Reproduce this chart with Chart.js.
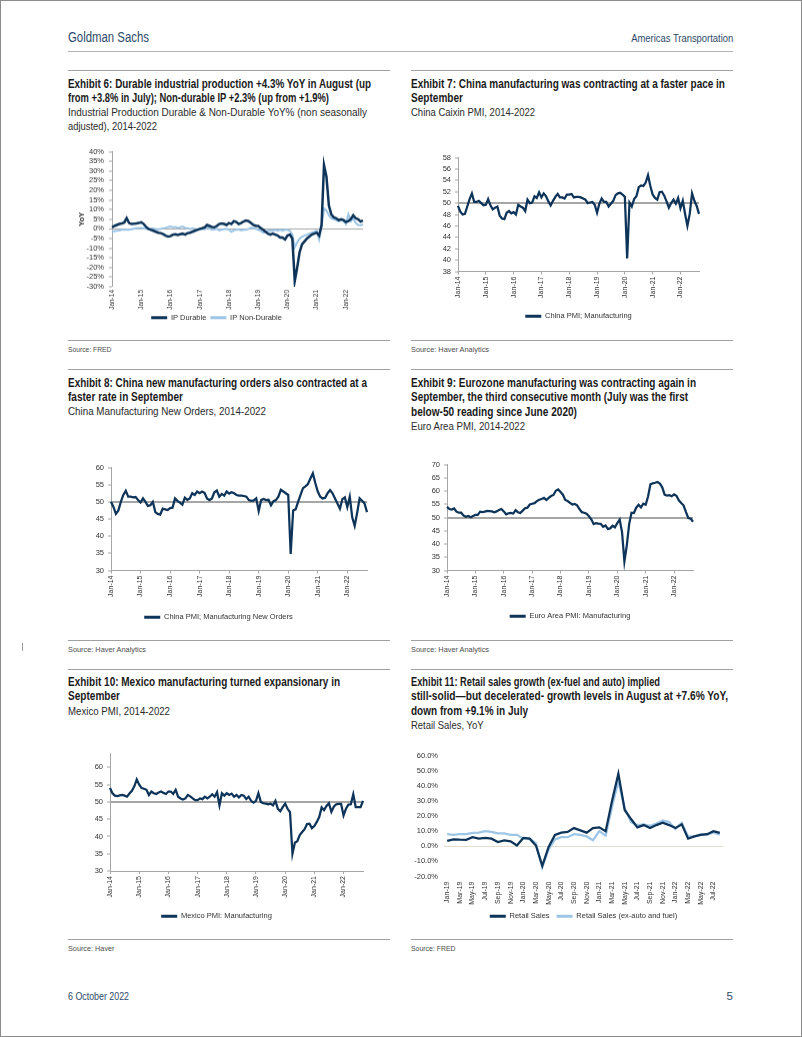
<!DOCTYPE html>
<html>
<head>
<meta charset="utf-8">
<script src="https://cdn.jsdelivr.net/npm/chart.js@4.4.0/dist/chart.umd.min.js"></script>
<style>
  html, body { margin: 0; padding: 0; background: #fff; }
  #page { position: relative; width: 802px; height: 1037px; overflow: hidden;
    font-family: "Liberation Sans Narrow", "Liberation Sans", Arial, sans-serif; }
  .frame { position: absolute; left: 0; top: 0; right: 0; bottom: 0; border: 1px solid #8c8c8c; pointer-events: none; }
  .ln { position: absolute; white-space: nowrap; transform-origin: 0 50%; }
  .r { transform-origin: 100% 50%; }
  .hd { color: #2d4a6b; }
  .ti { font-weight: bold; font-size: 12px; line-height: 14px; color: #1a1a1a; }
  .st { font-size: 11.5px; line-height: 14px; color: #2b2b2b; }
  .src { font-size: 7.5px; line-height: 10px; color: #4d4d4d; }
  .rule { position: absolute; height: 1px; background: #a0a0a0; }
  .box { position: absolute; }
</style>
</head>
<body>
<div id="page">
  <div class="ln hd" style="left:68px;top:28px;font-size:14px;line-height:18px" data-w="81">Goldman Sachs</div>
  <div class="ln hd r" style="right:69px;top:31px;font-size:11px;line-height:14px" data-w="102">Americas Transportation</div>
  <div class="rule" style="left:68px;top:51px;width:665px;background:#b3b3b3"></div>

  <!-- row 1 -->
  <div class="rule" style="left:68px;top:70px;width:322px"></div>
  <div class="rule" style="left:411px;top:70px;width:322px"></div>
  <div class="ln ti" style="left:68px;top:76.5px" data-w="303">Exhibit 6: Durable industrial production +4.3% YoY in August (up</div>
  <div class="ln ti" style="left:68px;top:90.7px" data-w="261">from +3.8% in July); Non-durable IP +2.3% (up from +1.9%)</div>
  <div class="ln st" style="left:68px;top:105.3px" data-w="299">Industrial Production Durable &amp; Non-Durable YoY% (non seasonally</div>
  <div class="ln st" style="left:68px;top:119px" data-w="89">adjusted), 2014-2022</div>
  <div class="ln ti" style="left:411px;top:76.5px" data-w="314">Exhibit 7: China manufacturing was contracting at a faster pace in</div>
  <div class="ln ti" style="left:411px;top:90.7px" data-w="52">September</div>
  <div class="ln st" style="left:411px;top:105.3px" data-w="124">China Caixin PMI, 2014-2022</div>
  <div class="box" style="left:70px;top:142px;width:297px;height:188.5px"><canvas id="c6"></canvas></div>
  <div class="box" style="left:420px;top:149px;width:283px;height:181px"><canvas id="c7"></canvas></div>
  <div class="rule" style="left:68px;top:340px;width:322px"></div>
  <div class="rule" style="left:411px;top:340px;width:322px"></div>
  <div class="ln src" style="left:68px;top:345px" data-w="43.5">Source: FRED</div>
  <div class="ln src" style="left:411px;top:345px" data-w="78">Source: Haver Analytics</div>

  <!-- row 2 -->
  <div class="rule" style="left:68px;top:369px;width:322px"></div>
  <div class="rule" style="left:411px;top:369px;width:322px"></div>
  <div class="ln ti" style="left:68px;top:376.3px" data-w="299">Exhibit 8: China new manufacturing orders also contracted at a</div>
  <div class="ln ti" style="left:68px;top:390.3px" data-w="115">faster rate in September</div>
  <div class="ln st" style="left:68px;top:404px" data-w="198">China Manufacturing New Orders, 2014-2022</div>
  <div class="ln ti" style="left:411px;top:376.3px" data-w="285">Exhibit 9: Eurozone manufacturing was contracting again in</div>
  <div class="ln ti" style="left:411px;top:390.3px" data-w="277">September, the third consecutive month (July was the first</div>
  <div class="ln ti" style="left:411px;top:404.7px" data-w="166">below-50 reading since June 2020)</div>
  <div class="ln st" style="left:411px;top:419px" data-w="114">Euro Area PMI, 2014-2022</div>
  <div class="box" style="left:70px;top:459px;width:301px;height:172px"><canvas id="c8"></canvas></div>
  <div class="box" style="left:410px;top:456px;width:287px;height:174px"><canvas id="c9"></canvas></div>
  <div class="rule" style="left:68px;top:640px;width:322px"></div>
  <div class="rule" style="left:411px;top:640px;width:322px"></div>
  <div class="ln src" style="left:68px;top:645px" data-w="78">Source: Haver Analytics</div>
  <div class="ln src" style="left:411px;top:645px" data-w="78">Source: Haver Analytics</div>
  <div style="position:absolute;left:22px;top:643px;width:1px;height:8px;background:#9a9a9a"></div>

  <!-- row 3 -->
  <div class="rule" style="left:68px;top:669px;width:322px"></div>
  <div class="rule" style="left:411px;top:669px;width:322px"></div>
  <div class="ln ti" style="left:68px;top:675.3px" data-w="272">Exhibit 10: Mexico manufacturing turned expansionary in</div>
  <div class="ln ti" style="left:68px;top:689px" data-w="52">September</div>
  <div class="ln st" style="left:68px;top:703.7px" data-w="102">Mexico PMI, 2014-2022</div>
  <div class="ln ti" style="left:411px;top:675.3px" data-w="249">Exhibit 11: Retail sales growth (ex-fuel and auto) implied</div>
  <div class="ln ti" style="left:411px;top:689px" data-w="317">still-solid—but decelerated- growth levels in August at +7.6% YoY,</div>
  <div class="ln ti" style="left:411px;top:703.7px" data-w="117">down from +9.1% in July</div>
  <div class="ln st" style="left:411px;top:718px" data-w="72.5">Retail Sales, YoY</div>
  <div class="box" style="left:70px;top:745px;width:297px;height:185px"><canvas id="c10"></canvas></div>
  <div class="box" style="left:400px;top:745px;width:327px;height:185px"><canvas id="c11"></canvas></div>
  <div class="rule" style="left:68px;top:939px;width:322px"></div>
  <div class="rule" style="left:411px;top:939px;width:322px"></div>
  <div class="ln src" style="left:68px;top:944.3px" data-w="46.5">Source: Haver</div>
  <div class="ln src" style="left:411px;top:944.3px" data-w="44.5">Source: FRED</div>

  <div class="ln hd" style="left:68px;top:989px;font-size:11.5px;line-height:14px" data-w="61">6 October 2022</div>
  <div class="ln hd r" style="right:69px;top:989px;font-size:11.5px;line-height:14px">5</div>
  <div class="frame"></div>
</div>

<script>
// squeeze each text line to the width it has in the report
document.querySelectorAll('[data-w]').forEach(el => {
  const w = el.getBoundingClientRect().width;
  el.style.transform = 'scaleX(' + (parseFloat(el.dataset.w) / w).toFixed(4) + ')';
});

const MONTHS = ['Jan', 'Feb', 'Mar', 'Apr', 'May', 'Jun', 'Jul', 'Aug', 'Sep', 'Oct', 'Nov', 'Dec'];
function monthLabels(year, count) {
  const out = [];
  for (let i = 0; i < count; i++) {
    out.push(MONTHS[i % 12] + '-' + String((year + Math.floor(i / 12)) % 100).padStart(2, '0'));
  }
  return out;
}

// Exhibit 6: Jan-14 .. Aug-22
const ipMonths = monthLabels(2014, 104);
const ipDurable = [
  0.8, 1.5, 2.0, 2.5, 2.8, 3.2, 5.5, 3.0, 2.5, 2.6, 2.8, 3.0,
  3.4, 2.5, 1.0, 0.0, -0.5, -1.0, -1.5, -2.0, -2.2, -2.8, -3.5, -4.0,
  -3.8, -3.0, -2.8, -3.2, -2.8, -2.5, -3.0, -2.2, -2.0, -1.5, -1.0, -0.5,
  0.0, 0.3, 0.8, 2.0, 1.5, 1.0, 0.8, 1.5, 2.5, 2.8, 2.5, 2.0,
  3.0, 2.5, 4.0, 3.5, 2.5, 3.0, 3.8, 4.3, 4.0, 3.0, 2.0, 1.5,
  1.5, 0.5, -0.5, -1.5, -2.5, -3.0, -2.5, -3.0, -3.5, -4.5, -4.5, -5.5,
  -3.5, -3.0, -5.0, -27.0, -20.0, -12.0, -8.0, -6.5, -5.0, -4.0, -3.0, -2.5,
  -2.0, -3.5, 2.0, 33.0, 27.0, 12.0, 7.5, 6.0, 5.5, 4.5, 5.0, 4.5,
  3.5, 4.0, 5.0, 7.0, 5.5, 5.0, 3.8, 4.3
];
const ipNonDurable = [
  -1.5, -1.2, -1.0, -0.8, -0.5, -0.5, -0.3, -0.5, -0.2, 0.0, 0.3, 0.5,
  0.5, 0.3, 0.0, -0.2, 0.0, 0.2, 0.0, -0.3, 0.0, 0.3, 0.5, 1.0,
  1.2, 0.8, 1.0, 0.5, 0.8, 1.2, 0.5, 0.3, 0.0, 0.3, 0.0, -0.3,
  -0.5, 0.0, -0.3, 0.5, 0.2, -0.5, -0.3, 0.0, -0.8, -0.5, -0.2, 0.0,
  -0.5, -1.5, -0.8, -0.5, -0.3, -0.8, -0.5, -0.5, 0.0, 0.5, 0.3, 0.0,
  -0.5, -1.0, -2.0, -1.5, -1.0, -0.8, -1.0, -0.5, -1.0, -0.5, -1.0, -0.5,
  -0.5, -1.0, -3.0, -9.5, -7.0, -5.0, -4.0, -3.5, -3.0, -2.5, -2.0, -1.5,
  -1.0, -5.5, 1.0, 10.5, 9.5, 7.0, 5.5, 5.0, 4.5, 4.0, 4.5, 4.0,
  2.5, 7.5, 4.0, 5.5, 3.0, 2.0, 1.9, 2.3
];

// Exhibits 7-10: Jan-14 .. Sep-22
const pmiMonths = monthLabels(2014, 105);
const chinaPmi = [
  49.5, 48.5, 48.0, 48.1, 49.4, 50.7, 51.7, 50.2, 50.2, 50.4, 50.0, 49.6,
  49.7, 50.7, 49.6, 48.9, 49.2, 49.4, 47.8, 47.3, 47.2, 48.3, 48.6, 48.2,
  48.4, 48.0, 49.7, 49.4, 49.2, 48.6, 50.6, 50.0, 50.1, 51.2, 50.9, 51.9,
  51.0, 51.7, 51.2, 50.3, 49.6, 50.4, 51.1, 51.6, 51.0, 51.0, 50.8, 51.5,
  51.5, 51.6, 51.0, 51.1, 51.1, 51.0, 50.8, 50.6, 50.0, 50.1, 50.2, 49.7,
  48.3, 49.9, 50.8, 50.2, 50.2, 49.4, 49.9, 50.4, 51.4, 51.7, 51.8, 51.5,
  51.1, 40.3, 50.1, 49.4, 50.7, 51.2, 52.8, 53.1, 53.0, 53.6, 54.9, 53.0,
  51.5, 50.9, 50.6, 51.9, 52.0, 51.3, 50.3, 49.2, 50.0, 50.6, 49.9, 50.9,
  49.1, 50.4, 48.1, 46.0, 48.1, 51.7, 50.4, 49.5, 48.1
];
const chinaNewOrders = [
  50.0, 48.5, 46.5, 47.5, 50.0, 52.0, 53.2, 51.5, 51.5, 51.3, 51.4, 50.5,
  49.8, 51.0, 50.0, 48.8, 49.0, 50.0, 47.0, 46.5, 46.3, 48.0, 47.8, 47.6,
  48.2, 48.3, 51.0, 50.3, 49.8, 49.2, 51.2, 50.6, 51.0, 52.5, 52.0, 53.0,
  52.5, 53.0, 52.6, 51.0, 50.5, 51.0, 52.8, 53.3, 51.5, 52.3, 51.8, 53.0,
  52.4, 52.8, 52.5, 52.0, 51.8, 51.8, 51.7, 51.5, 50.5, 50.3, 50.4, 51.0,
  47.3, 50.5, 50.8, 50.5, 50.6, 49.0, 50.2, 50.5, 51.5, 53.5, 53.0, 52.5,
  52.0, 34.8, 47.5, 47.8, 50.0, 52.0, 54.0, 54.5, 55.2, 56.8, 58.3, 55.5,
  53.0, 51.5, 51.0, 51.2, 52.5, 53.4, 52.5, 51.0, 49.5, 48.0, 50.8, 51.3,
  48.5, 51.5, 45.5, 43.0, 46.8, 51.0, 50.3, 49.5, 47.0
];
const euroPmi = [
  54.0, 53.2, 53.0, 53.4, 52.2, 51.8, 51.8, 50.7, 50.3, 50.6, 50.1, 50.6,
  51.0, 51.0, 52.2, 52.0, 52.2, 52.5, 52.4, 52.3, 52.0, 52.3, 52.8, 53.2,
  52.3, 51.2, 51.6, 51.7, 51.5, 52.8, 52.0, 51.7, 52.6, 53.5, 53.7, 54.9,
  55.2, 55.4, 56.2, 56.7, 57.0, 57.4, 56.6, 57.4, 58.1, 58.5, 60.1, 60.6,
  59.6, 58.6, 56.6, 56.2, 55.5, 54.9, 55.1, 54.6, 53.2, 52.0, 51.8, 51.4,
  50.5, 49.3, 47.5, 47.9, 47.7, 47.6, 46.5, 47.0, 45.7, 45.9, 46.9, 46.3,
  47.9, 49.2, 44.5, 33.4, 39.4, 47.4, 51.8, 51.7, 53.7, 54.8, 53.8, 55.2,
  54.8, 57.9, 62.5, 62.9, 63.1, 63.4, 62.8, 61.4, 58.6, 58.3, 58.4, 58.0,
  58.7, 58.2, 56.5, 55.5, 54.6, 52.1, 49.8, 49.6, 48.4
];
const mexicoPmi = [
  54.0, 52.5, 51.8, 51.7, 51.9, 52.0, 51.8, 51.5, 52.4, 53.2, 54.5, 56.5,
  55.0, 54.0, 53.8, 53.5, 52.0, 53.0, 52.5, 52.3, 52.7, 53.0, 52.6, 52.3,
  53.0, 53.0, 52.3, 53.5, 51.5, 51.0, 50.7, 51.0, 52.0, 51.6, 51.0, 50.5,
  50.5, 51.0, 50.8, 51.5, 51.0, 51.5, 52.2, 51.5, 52.8, 49.0, 52.5, 51.8,
  52.5, 52.0, 52.4, 51.5, 52.0, 51.3, 52.0, 51.8, 50.8, 51.5, 50.3, 49.8,
  50.3, 52.5, 50.0, 49.6, 49.5, 49.3, 49.5, 49.0, 50.3, 48.0, 47.3, 48.5,
  49.5, 48.0, 47.0, 35.0, 38.2, 38.6, 40.4, 41.3, 42.1, 43.6, 43.7, 42.4,
  43.0, 44.2, 45.6, 48.4, 47.6, 48.8, 49.6, 47.1, 48.6, 49.3, 49.4, 49.4,
  46.1, 48.0, 49.2, 49.3, 52.2, 48.5, 48.5, 48.5, 50.3
];

// Exhibit 11: Jan-19 .. Aug-22
const retailMonths = monthLabels(2019, 44);
const retailSales = [
  3.5, 4.5, 4.3, 4.2, 6.0, 5.0, 5.5, 5.0, 2.8, 3.8, 3.3, 0.5,
  5.5, 5.0, 0.5, -13.0, -0.5, 7.5, 9.0, 9.5, 12.0, 10.5, 9.0, 12.0,
  12.5, 10.0, 30.0, 48.0, 24.0, 18.0, 12.5, 14.0, 12.0, 14.0, 15.5, 14.0,
  12.0, 14.5, 5.0, 6.5, 7.5, 8.0, 10.0, 8.8
];
const retailExAutoFuel = [
  8.0, 7.5, 8.0, 8.0, 8.8, 9.0, 10.0, 9.5, 8.5, 8.5, 7.5, 7.5,
  5.0, 5.0, 2.0, -14.0, -2.0, 4.5, 6.0, 6.0, 8.0, 7.5, 6.5, 4.0,
  10.0, 7.0, 26.0, 43.0, 25.0, 16.0, 14.0, 14.5, 13.5, 15.0, 17.0, 16.0,
  11.5, 15.5, 6.5, 6.5, 8.0, 7.5, 9.1, 7.6
];

const DARK = '#0e3459';
const LIGHT = '#9cc5e6';
const AXIS = '#a6a6a6';

Chart.defaults.font.family = '"Liberation Sans", Arial, sans-serif';
Chart.defaults.font.size = 7.5;
Chart.defaults.color = '#333';

function makeChart(id, labels, series, o) {
  const isRef = c => c.tick && Math.abs(c.tick.value - o.ref) < 1e-9;
  return new Chart(document.getElementById(id), {
    type: 'line',
    data: {
      labels: labels,
      datasets: series.map(s => ({
        label: s.label, data: s.data,
        borderColor: s.color, backgroundColor: s.color,
        borderWidth: s.width, pointRadius: 0, tension: 0, fill: false
      }))
    },
    options: {
      responsive: true,
      maintainAspectRatio: false,
      animation: false,
      layout: { padding: { top: 2, right: o.padRight, left: 0, bottom: 0 } },
      plugins: {
        tooltip: { enabled: false },
        legend: {
          position: 'bottom',
          fullSize: o.legendFull,
          labels: {
            boxWidth: 16, boxHeight: 3, padding: o.legendPad, color: '#333',
            generateLabels: ch => Chart.defaults.plugins.legend.labels.generateLabels(ch)
              .map(l => Object.assign(l, { lineWidth: 0 }))
          }
        }
      },
      scales: {
        x: {
          offset: o.xOffset,
          border: { display: o.xBorder, color: AXIS },
          grid: { drawOnChartArea: false, drawTicks: o.xBorder, tickLength: 3, tickColor: AXIS },
          ticks: {
            autoSkip: false, minRotation: 90, maxRotation: 90, padding: o.xPad,
            font: { size: o.xFont },
            callback: (v, i) => (i % o.every === 0 ? labels[i] : null)
          },
          afterFit: s => { s.height = o.xh; }
        },
        y: {
          min: o.min, max: o.max,
          border: { display: o.yBorder, color: AXIS },
          grid: {
            color: c => (isRef(c) ? o.refColor : 'rgba(0,0,0,0)'),
            lineWidth: c => (isRef(c) ? o.refWidth : 0),
            drawTicks: o.yBorder, tickLength: 3, tickWidth: 1, tickColor: AXIS
          },
          ticks: { stepSize: o.step, autoSkip: false, padding: o.yPad, callback: o.fmt },
          title: o.title
            ? { display: true, text: o.title, color: '#222', font: { weight: 'bold', size: 7.5 }, padding: { top: 7.5, bottom: 0 } }
            : { display: false },
          afterBuildTicks: s => {
            s.ticks = s.ticks.filter(t => Math.abs(t.value / o.step - Math.round(t.value / o.step)) < 1e-6);
          },
          afterFit: s => { s.width = o.yw; }
        }
      }
    }
  });
}

const pmiBase = {
  every: 12, xOffset: false, xBorder: true, xPad: 2, xh: 27, xFont: 7,
  yBorder: true, yPad: 4, ref: 50, refColor: AXIS, refWidth: 2,
  fmt: v => v, padRight: 4
};

makeChart('c6', ipMonths, [
  { label: 'IP Durable', data: ipDurable, color: DARK, width: 2.5 },
  { label: 'IP Non-Durable', data: ipNonDurable, color: LIGHT, width: 2 }
], {
  every: 12, xOffset: false, xBorder: false, xPad: 3, xh: 23, xFont: 6.5,
  yBorder: true, yPad: 5, ref: 0, refColor: AXIS, refWidth: 1,
  min: -30, max: 40, step: 5, fmt: v => v + '%', title: 'YoY',
  yw: 42, padRight: 4, legendPad: 4, legendFull: true
});

makeChart('c7', pmiMonths, [
  { label: 'China PMI; Manufacturing', data: chinaPmi, color: DARK, width: 2.25 }
], Object.assign({}, pmiBase, { min: 38, max: 58, step: 2, yw: 38, legendPad: 14, legendFull: false }));

makeChart('c8', pmiMonths, [
  { label: 'China PMI; Manufacturing New Orders', data: chinaNewOrders, color: DARK, width: 2.25 }
], Object.assign({}, pmiBase, { min: 30, max: 60, step: 5, yw: 41, legendPad: 16, legendFull: true }));

makeChart('c9', pmiMonths, [
  { label: 'Euro Area PMI: Manufacturing', data: euroPmi, color: DARK, width: 2.25 }
], Object.assign({}, pmiBase, { min: 30, max: 70, step: 5, yw: 37, legendPad: 15, legendFull: false }));

makeChart('c10', pmiMonths, [
  { label: 'Mexico PMI: Manufacturing', data: mexicoPmi, color: DARK, width: 2.25 }
], Object.assign({}, pmiBase, { min: 30, max: 64, step: 5, yw: 40, legendPad: 14.5, legendFull: true }));

makeChart('c11', retailMonths, [
  { label: 'Retail Sales', data: retailSales, color: DARK, width: 2.25 },
  { label: 'Retail Sales (ex-auto and fuel)', data: retailExAutoFuel, color: LIGHT, width: 2.25 }
], {
  every: 2, xOffset: true, xBorder: false, xPad: 5, xh: 29, xFont: 7,
  yBorder: false, yPad: 6, ref: 0, refColor: '#e3dccb', refWidth: 1,
  min: -20, max: 60, step: 10, fmt: v => v.toFixed(1) + '%',
  yw: 44, padRight: 4, legendPad: 7, legendFull: false
});
</script>
</body>
</html>
